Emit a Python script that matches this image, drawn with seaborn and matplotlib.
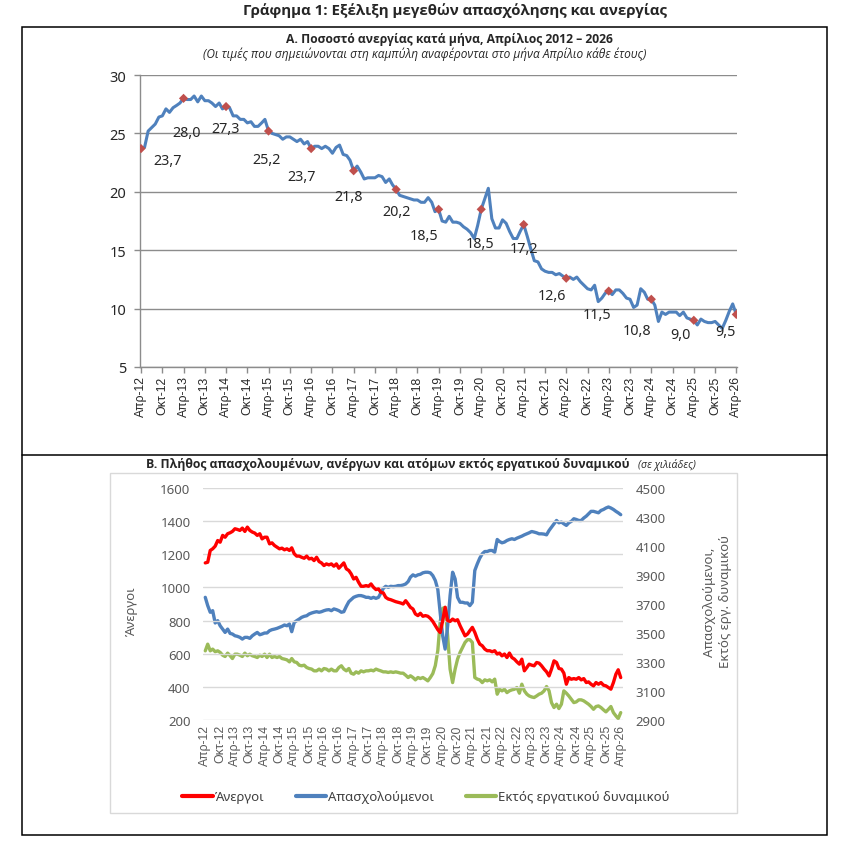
import numpy as np
import pandas as pd
import matplotlib
matplotlib.use('Agg')
import matplotlib.pyplot as plt
import seaborn as sns
from matplotlib.lines import Line2D
from matplotlib.patches import Rectangle

sns.set_theme(style='white')
plt.rcParams['font.family'] = ['Noto Sans', 'DejaVu Sans']

# ---- data (monthly, April 2012 - April 2026) ----
start_month = '2012-04-01'

# unemployment rate (%)
unemp_rate = [
    23.7, 23.8, 25.2, 25.5, 25.8, 26.4, 26.5, 27.1, 26.8, 27.2, 27.4, 27.6,
    28.0, 27.9, 27.9, 28.2, 27.7, 28.2, 27.8, 27.8, 27.6, 27.3, 27.6, 27.1,
    27.3, 27.2, 26.5, 26.5, 26.2, 26.2, 25.9, 26.0, 25.6, 25.6, 25.9, 26.2,
    25.2, 25.0, 24.9, 24.8, 24.5, 24.7, 24.7, 24.5, 24.3, 24.5, 24.1, 24.3,
    23.7, 23.9, 23.9, 23.7, 23.9, 23.7, 23.3, 23.8, 24.0, 23.2, 23.1, 22.7,
    21.8, 22.2, 21.7, 21.1, 21.2, 21.2, 21.2, 21.4, 21.3, 20.8, 21.1, 20.6,
    20.2, 19.7, 19.6, 19.5, 19.4, 19.3, 19.3, 19.1, 19.1, 19.5, 19.1, 18.3,
    18.5, 17.5, 17.4, 17.9, 17.4, 17.4, 17.3, 17.0, 16.8, 16.5, 16.0, 17.1,
    18.5, 19.4, 20.3, 17.7, 16.9, 16.9, 17.6, 17.3, 16.6, 16.0, 16.0, 16.6,
    17.2, 16.2, 15.1, 14.1, 14.0, 13.4, 13.2, 13.1, 13.1, 12.9, 13.0, 12.8,
    12.6, 12.7, 12.5, 12.7, 12.3, 12.0, 11.7, 11.6, 12.0, 10.6, 10.9, 11.3,
    11.5, 11.2, 11.6, 11.6, 11.3, 10.9, 10.8, 10.1, 10.3, 11.7, 11.4, 10.8,
    10.8, 10.3, 8.9, 9.7, 9.5, 9.7, 9.7, 9.7, 9.4, 9.7, 9.2, 9.1,
    9.0, 8.6, 9.1, 8.9, 8.8, 8.8, 8.9, 8.6, 8.3, 9.0, 9.8, 10.4,
    9.5,
]

# unemployed (thousands)
unemployed = [
    1148, 1152, 1223, 1233, 1249, 1283, 1273, 1314, 1303, 1324, 1330, 1338,
    1354, 1350, 1344, 1358, 1338, 1364, 1344, 1334, 1328, 1314, 1324, 1293,
    1303, 1303, 1263, 1269, 1253, 1243, 1233, 1237, 1227, 1233, 1223, 1239,
    1203, 1189, 1189, 1182, 1176, 1189, 1172, 1176, 1162, 1182, 1156, 1148,
    1132, 1142, 1136, 1142, 1128, 1142, 1116, 1132, 1148, 1112, 1102, 1082,
    1051, 1061, 1031, 1007, 1007, 1011, 1007, 1021, 1001, 987, 991, 971,
    967, 940, 930, 926, 920, 914, 910, 906, 900, 920, 900, 880,
    870, 840, 830, 844, 826, 830, 826, 813, 795, 770, 745, 728,
    800, 880, 800, 795, 809, 799, 805, 769, 739, 708, 719, 739,
    759, 729, 688, 658, 648, 628, 618, 618, 612, 618, 598, 604,
    587, 598, 577, 604, 577, 567, 551, 537, 567, 497, 517, 537,
    531, 527, 547, 543, 527, 507, 491, 466, 507, 557, 547, 511,
    507, 483, 416, 456, 446, 450, 446, 456, 442, 450, 426, 430,
    416, 406, 426, 416, 426, 410, 406, 396, 386, 426, 477, 503,
    456,
]

# employed (thousands)
employed = [
    3746, 3689, 3643, 3654, 3569, 3585, 3550, 3527, 3504, 3527, 3497, 3493,
    3481, 3477, 3470, 3458, 3470, 3470, 3463, 3481, 3493, 3504, 3488, 3493,
    3500, 3500, 3516, 3523, 3527, 3532, 3539, 3546, 3555, 3550, 3562, 3509,
    3573, 3585, 3596, 3608, 3615, 3619, 3631, 3638, 3643, 3647, 3643, 3647,
    3654, 3659, 3661, 3654, 3666, 3661, 3654, 3643, 3647, 3684, 3716, 3730,
    3746, 3753, 3758, 3758, 3753, 3746, 3746, 3739, 3746, 3739, 3746, 3776,
    3808, 3822, 3815, 3822, 3820, 3822, 3827, 3827, 3831, 3838, 3855, 3885,
    3901, 3892, 3901, 3905, 3915, 3919, 3919, 3915, 3896, 3862, 3800, 3640,
    3480, 3389, 3550, 3758, 3919, 3873, 3746, 3712, 3712, 3707, 3707, 3689,
    3712, 3931, 3977, 4016, 4046, 4062, 4062, 4069, 4069, 4057, 4145, 4131,
    4122, 4127, 4138, 4145, 4150, 4145, 4154, 4161, 4168, 4177, 4184, 4191,
    4200, 4196, 4191, 4184, 4184, 4182, 4177, 4207, 4230, 4253, 4276, 4260,
    4265, 4253, 4242, 4260, 4270, 4288, 4283, 4276, 4276, 4293, 4306, 4322,
    4339, 4339, 4334, 4329, 4345, 4352, 4362, 4369, 4362, 4352, 4339, 4329,
    4316,
]

# outside the labour force (thousands)
out_of_lf = [
    3377, 3423, 3377, 3389, 3371, 3377, 3366, 3347, 3338, 3361, 3343, 3324,
    3354, 3354, 3347, 3338, 3361, 3343, 3354, 3343, 3338, 3331, 3347, 3338,
    3354, 3331, 3354, 3331, 3338, 3331, 3338, 3324, 3320, 3315, 3301, 3324,
    3301, 3297, 3278, 3274, 3278, 3262, 3255, 3251, 3239, 3239, 3251, 3239,
    3255, 3251, 3239, 3251, 3239, 3239, 3262, 3274, 3251, 3239, 3255, 3223,
    3216, 3232, 3223, 3239, 3232, 3239, 3239, 3244, 3239, 3251, 3244, 3239,
    3232, 3232, 3228, 3232, 3228, 3232, 3228, 3223, 3223, 3209, 3193, 3205,
    3193, 3177, 3193, 3186, 3193, 3182, 3170, 3193, 3220, 3275, 3380, 3580,
    3670, 3677, 3480, 3251, 3158, 3251, 3320, 3366, 3400, 3435, 3454, 3454,
    3435, 3193, 3182, 3177, 3158, 3177, 3170, 3177, 3163, 3182, 3078, 3112,
    3101, 3112, 3089, 3101, 3108, 3112, 3124, 3085, 3147, 3101, 3078, 3066,
    3059, 3055, 3066, 3078, 3085, 3101, 3131, 3101, 3020, 2986, 3009, 2979,
    3009, 3101, 3085, 3066, 3043, 3020, 3025, 3039, 3039, 3032, 3020, 3009,
    2993, 2974, 2993, 2997, 2986, 2970, 2956, 2974, 2993, 2951, 2928, 2910,
    2951,
]

month_abbr = {4: 'Απρ', 10: 'Οκτ'}
series_names = ['Άνεργοι', 'Απασχολούμενοι', 'Εκτός εργατικού δυναμικού']

# ---- prepare ----
dates = pd.date_range(start_month, periods=len(unemp_rate), freq='MS')
df = pd.DataFrame({'date': dates, 'rate': unemp_rate, 'unemployed': unemployed,
                   'employed': employed, 'out_lf': out_of_lf})
april = df[df['date'].dt.month == 4]
tick_dates = dates[::6]
tick_labels = [f"{month_abbr[d.month]}-{d:%y}" for d in tick_dates]

# label offsets in pixels (dx, dy downward), hand placed like the original
label_offsets = [(27, 12), (3, 34), (0, 22), (-2, 28), (-10, 28), (-5, 26), (0, 22),
                 (-15, 26), (-1, 34), (0, 24), (-14, 17), (-12, 23), (-14, 31),
                 (-13, 14), (-11, 17)]

W, H = 847, 853
fig = plt.figure(figsize=(W / 100, H / 100), dpi=100)


def fx(px):
    return px / W


def fy(py):
    return 1 - py / H


ARIAL = ['Liberation Sans', 'DejaVu Sans']
BOLD_FAM = ['Open Sans', 'DejaVu Sans']
BLUE = '#4F81BD'
GRID_TOP = '#8C8C8C'
GRAY_TXT = '#595959'

# ---- outer frame ----
fig.add_artist(Rectangle((fx(21.5), fy(836)), (826.5 - 21.5) / W, (836 - 28) / H,
                         transform=fig.transFigure, fill=False, ec='black', lw=1.1))
fig.add_artist(Line2D([fx(21.5), fx(826.5)], [fy(456), fy(456)],
                      transform=fig.transFigure, color='black', lw=1.1))

fig.text(fx(455), fy(11), 'Γράφημα 1: Εξέλιξη μεγεθών απασχόλησης και ανεργίας',
         ha='center', va='center', fontsize=10.8, weight='bold', family=BOLD_FAM)
fig.text(fx(449), fy(40), 'Α. Ποσοστό ανεργίας κατά μήνα, Απρίλιος 2012 – 2026',
         ha='center', va='center', fontsize=8.7, weight='bold', family=BOLD_FAM)
fig.text(fx(425), fy(54), '(Οι τιμές που σημειώνονται στη καμπύλη αναφέρονται στο μήνα Απρίλιο κάθε έτους)',
         ha='center', va='center', fontsize=8.6, style='italic', family=BOLD_FAM)

# ---- panel A ----
ax1 = fig.add_axes([fx(140), fy(368), (737 - 140) / W, (368 - 76) / H])
sns.lineplot(data=df, x='date', y='rate', ax=ax1, color=BLUE, lw=2.2)
sns.scatterplot(data=april, x='date', y='rate', ax=ax1, color='#C0504D',
                marker='D', s=22, edgecolor='none', zorder=5)

for (d, v), (dx, dy) in zip(april[['date', 'rate']].itertuples(index=False), label_offsets):
    ax1.annotate(f"{v:.1f}".replace('.', ','), xy=(d, v), xytext=(dx, -dy),
                 textcoords='offset pixels', ha='center', va='center', fontsize=10.3)

ax1.set_ylim(5, 30)
ax1.set_yticks(range(5, 31, 5))
ax1.set_xlim(dates[0] - pd.Timedelta(days=9), dates[-1] + pd.Timedelta(days=6))
ax1.set_xticks(tick_dates)
ax1.set_xticklabels(tick_labels, rotation=90, fontsize=8.8, family=ARIAL)
ax1.set_xlabel('')
ax1.set_ylabel('')
ax1.grid(axis='y', color=GRID_TOP, lw=1)
ax1.set_axisbelow(True)
for side in ['top', 'right']:
    ax1.spines[side].set_visible(False)
for side in ['left', 'bottom']:
    ax1.spines[side].set_color(GRID_TOP)
    ax1.spines[side].set_linewidth(1)
ax1.tick_params(axis='x', length=4, width=1, color=GRID_TOP, pad=2, bottom=True)
ax1.tick_params(axis='y', length=4, width=1, color=GRID_TOP, pad=6, labelsize=10.5, left=True)

# ---- panel B ----
t_bold = fig.text(fx(388), fy(465),
                  'Β. Πλήθος απασχολουμένων, ανέργων και ατόμων εκτός εργατικού δυναμικού',
                  ha='center', va='center', fontsize=8.8, weight='bold', family=BOLD_FAM)
fig.add_artist(Rectangle((fx(110), fy(814)), (737 - 110) / W, (814 - 474) / H,
                         transform=fig.transFigure, fill=False, ec='#D9D9D9', lw=1))

ax2 = fig.add_axes([fx(203), fy(721), (623 - 203) / W, (721 - 489) / H])
ax3 = ax2.twinx()
ax2.annotate('(σε χιλιάδες)', xy=(1, 0.5), xycoords=t_bold, xytext=(8, 0),
             textcoords='offset pixels', ha='left', va='center', fontsize=7.6,
             style='italic', family=BOLD_FAM, annotation_clip=False)

colors = ['#FF0000', BLUE, '#9BBB59']
sns.lineplot(data=df, x='date', y='unemployed', ax=ax2, color=colors[0], lw=2.4, zorder=4)
sns.lineplot(data=df, x='date', y='employed', ax=ax3, color=colors[1], lw=2.4, zorder=3)
sns.lineplot(data=df, x='date', y='out_lf', ax=ax3, color=colors[2], lw=2.4, zorder=2)

ax2.set_ylim(200, 1600)
ax2.set_yticks(range(200, 1601, 200))
ax3.set_ylim(2900, 4500)
ax3.set_yticks(range(2900, 4501, 200))
xl = (dates[0] - pd.Timedelta(days=28), dates[-1] + pd.Timedelta(days=28))
ax2.set_xlim(xl)
ax3.set_xlim(xl)
ax2.set_xticks(tick_dates)
ax2.set_xticklabels(tick_labels, rotation=90, fontsize=8.8, family=ARIAL, color=GRAY_TXT)
for a in (ax2, ax3):
    a.set_xlabel('')
    a.set_ylabel('')
    for s in a.spines.values():
        s.set_visible(False)
ax2.grid(axis='y', color='#D9D9D9', lw=1)
ax2.set_axisbelow(True)
ax2.tick_params(axis='x', length=0, pad=3)
ax2.tick_params(axis='y', length=0, pad=9, labelsize=9.5, labelcolor=GRAY_TXT)
ax3.tick_params(axis='y', length=0, pad=9, labelsize=9.5, labelcolor=GRAY_TXT)
ax2.set_zorder(ax3.get_zorder() + 1)
ax2.patch.set_visible(False)

fig.text(fx(131), fy(611), 'Άνεργοι', rotation=90, ha='center', va='center',
         fontsize=9.5, color=GRAY_TXT)
fig.text(fx(717), fy(602), 'Απασχολούμενοι,\nΕκτός εργ. δυναμικού', rotation=90,
         ha='center', va='center', multialignment='center', fontsize=9.5, color=GRAY_TXT,
         linespacing=1.3)

handles = [Line2D([], [], color=c, lw=3) for c in colors]
fig.legend(handles, series_names, loc='center', bbox_to_anchor=(fx(426), fy(798)),
           ncol=3, frameon=False, handlelength=2.3, handletextpad=0.15,
           columnspacing=2.4, fontsize=9.5, labelcolor='#404040')

fig.savefig('out.png', dpi=100)
